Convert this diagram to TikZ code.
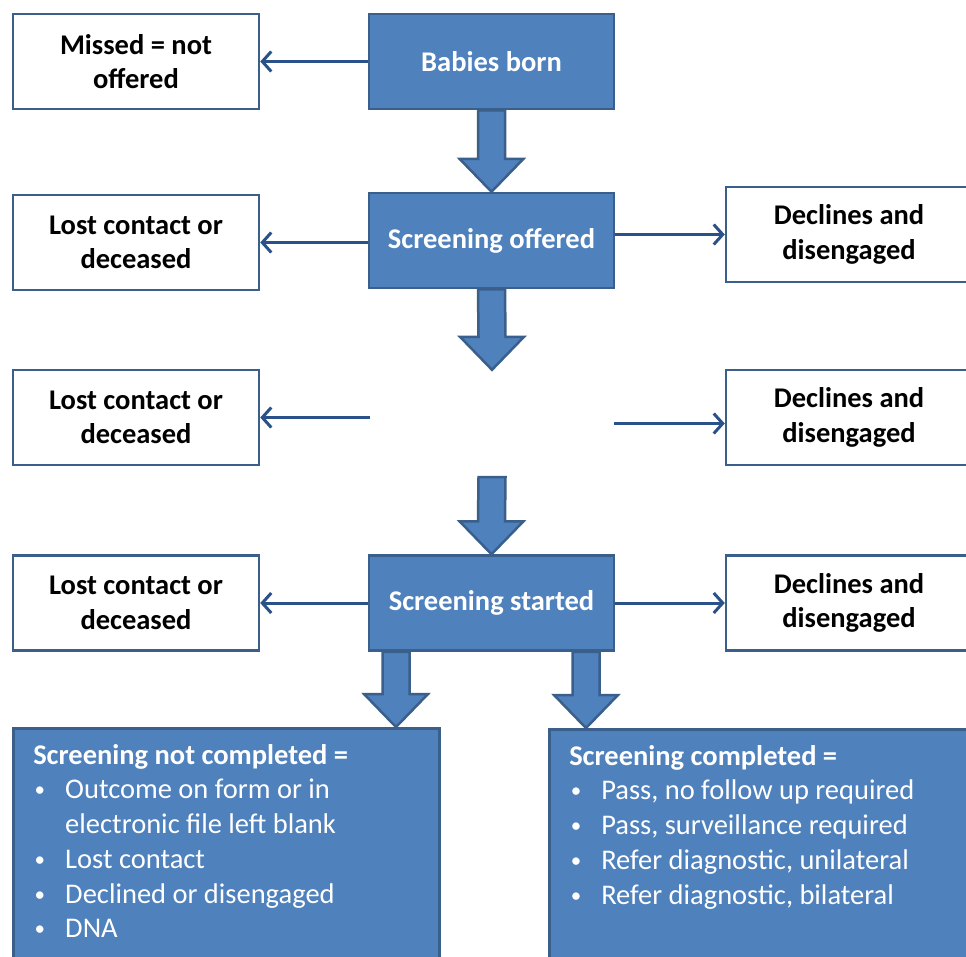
\documentclass[tikz,border=0pt]{standalone}
\usepackage{fontspec}
\setmainfont{Carlito}
\usetikzlibrary{arrows.meta,calc}
\definecolor{boxfill}{HTML}{4F81BD}
\definecolor{boxline}{HTML}{3A5F8B}
\definecolor{linkblue}{HTML}{2A5189}
\newcommand\nodefont{\fontsize{28.5}{34.7}\selectfont}
\newcommand\tightsp{\spaceskip=6.4pt\relax}
\newcommand\bul{\makebox[32pt][l]{\hspace{1.5pt}\raisebox{2pt}{\fontsize{21}{21}\selectfont\textbullet}}}
% thick block arrow pointing down, from #1 to tip #2
\newcommand\fatdown[2]{%
  \draw[fatarrow] ($(#1)+(-13.5,0)$) -- ($(#2)+(-13.5,-33)$) -- ($(#2)+(-32,-33)$)
    -- (#2) -- ($(#2)+(32,-33)$) -- ($(#2)+(13.5,-33)$) -- ($(#1)+(13.5,0)$) -- cycle;}
\tikzset{
  stage/.style={draw=boxline, fill=boxfill, line width=2.5pt, minimum width=245pt,
    minimum height=95pt, text=white, font=\nodefont\bfseries},
  outbox/.style={draw=boxline, fill=white, line width=2.5pt, minimum width=246pt,
    minimum height=95pt, align=center, font=\nodefont\bfseries},
  listbox/.style={draw=boxline, fill=boxfill, line width=2.5pt, anchor=north west,
    text width=386pt, inner xsep=20pt, inner ysep=15pt, text height=21pt,
    text depth=210pt, align=left, text=white, font=\nodefont},
  link/.style={draw=linkblue, line width=3pt, -{Straight Barb[length=9pt,width=20pt]}},
  fatarrow/.style={draw=boxline, fill=boxfill, line width=2.5pt, line join=miter},
}
\begin{document}
\begin{tikzpicture}[x=1pt,y=-1pt]
    \useasboundingbox (0,0) rectangle (966,956);
    \clip (0,0) rectangle (966,956);

    % main stages
    \node[stage] (born)    at (491.5,61.5) {Babies born};
    \node[stage] (offered) at (491.5,240.5) {Screening offered};
    \node[minimum width=244pt, minimum height=107pt] (mid) at (492,423.5) {};
    \node[stage] (started) at (491.5,603) {Screening started};

    % side boxes
    \node[outbox] (missed)    at (136,61.5)  {Missed = not\\offered};
    \node[outbox] (lost1)     at (136,242.5) {Lost contact or\\deceased};
    \node[outbox] (declines1) at (849,234.5) {Declines and\\disengaged};
    \node[outbox] (lost2)     at (136,417.5) {Lost contact or\\deceased};
    \node[outbox] (declines2) at (849,417.5) {Declines and\\disengaged};
    \node[outbox] (lost3)     at (136,603)   {Lost contact or\\deceased};
    \node[outbox] (declines3) at (849,603)   {Declines and\\disengaged};

    % outcome boxes
    \node[listbox] (notdone) at (12,727) {\tightsp\textbf{Screening not completed =}\\
      \bul Outcome on form or in\\
      \hspace*{32pt}electronic file left blank\\
      \bul Lost contact\\
      \bul Declined or disengaged\\
      \bul DNA};
    \node[listbox] (done) at (548,728) {\tightsp\textbf{Screening completed =}\\
      \bul Pass, no follow up required\\
      \bul Pass, surveillance required\\
      \bul Refer diagnostic, unilateral\\
      \bul Refer diagnostic, bilateral};

    % thin arrows
    \draw[link] (born.west) -- (born.west -| missed.east);
    \draw[link] (offered.west |- lost1.east) -- (lost1.east);
    \draw[link] (offered.east |- declines1.west) -- (declines1.west);
    \draw[link] (mid.west |- lost2.east) -- (lost2.east);
    \draw[link] (mid.east) -- (mid.east -| declines2.west);
    \draw[link] (started.west) -- (lost3.east);
    \draw[link] (started.east) -- (declines3.west);

    % block arrows
    \coordinate (splitL) at ($(started.south)+(-95.5,0)$);
    \coordinate (splitR) at ($(started.south)+(94.5,0)$);
    \coordinate (tipL) at (splitL |- notdone.north);
    \coordinate (tipR) at (splitR |- done.north);
    \fatdown{born.south}{offered.north}
    \fatdown{offered.south}{mid.north}
    \fatdown{mid.south}{started.north}
    \fatdown{splitL}{tipL}
    \fatdown{splitR}{tipR}
\end{tikzpicture}
\end{document}
